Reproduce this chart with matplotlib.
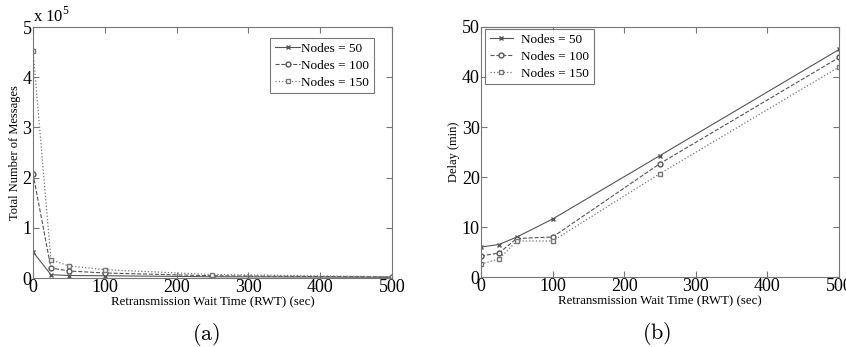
import matplotlib
matplotlib.use('Agg')
import matplotlib.pyplot as plt

# data
rwt = [0, 25, 50, 100, 250, 500]
labels = ['Nodes = 50', 'Nodes = 100', 'Nodes = 150']

# total messages, in units of 1e5
msgs_50 = [0.52, 0.066, 0.05, 0.045, 0.025, 0.015]
msgs_100 = [2.08, 0.20, 0.14, 0.10, 0.045, 0.02]
msgs_150 = [4.53, 0.365, 0.24, 0.166, 0.07, 0.025]

# delay in minutes
delay_50 = [6.0, 6.5, 8.0, 11.6, 24.3, 45.5]
delay_100 = [4.2, 4.8, 7.7, 8.0, 22.7, 43.9]
delay_150 = [2.6, 3.6, 7.2, 7.2, 20.7, 42.0]

plt.rcParams['font.family'] = ['Liberation Serif', 'DejaVu Serif']
plt.rcParams['mathtext.fontset'] = 'custom'
plt.rcParams['mathtext.rm'] = 'Liberation Serif'

styles = [
    dict(linestyle='-', marker='x', markersize=3, color='#555555', lw=0.8),
    dict(linestyle='--', marker='o', markersize=3.5, color='#555555', lw=0.8, mfc='white'),
    dict(linestyle=':', marker='s', markersize=3.5, color='#777777', lw=0.9, mfc='white'),
]

fig = plt.figure(figsize=(8.46, 3.47), dpi=100)
ax1 = fig.add_axes([0.039, 0.1988, 0.4243, 0.7233])
ax2 = fig.add_axes([0.5686, 0.2017, 0.4232, 0.7205])


def style_axes(ax):
    ax.set_xlim(0, 500)
    ax.set_xticks([0, 100, 200, 300, 400, 500])
    ax.tick_params(direction='in', top=True, right=True, labelsize=13, length=4,
                   color='#777777', pad=1)
    for s in ax.spines.values():
        s.set_color('#777777')
        s.set_linewidth(0.8)
    ax.set_xlabel('Retransmission Wait Time (RWT) (sec)', fontsize=9.3, labelpad=0)


for ys, lab, st in zip([msgs_50, msgs_100, msgs_150], labels, styles):
    ax1.plot(rwt, ys, label=lab, **st)
ax1.set_ylim(0, 5)
ax1.set_yticks(range(6))
style_axes(ax1)
ax1.set_ylabel('Total Number of Messages', fontsize=9, labelpad=1)
ax1.text(0.0, 1.005, r'x 10$^5$', transform=ax1.transAxes, fontsize=12, va='bottom')
leg1 = ax1.legend(loc='upper right', fontsize=9.5, handlelength=1.9, borderpad=0.35,
                  labelspacing=0.35, handletextpad=0.1, fancybox=False,
                  bbox_to_anchor=(0.95, 0.956), borderaxespad=0)
leg1.get_frame().set_edgecolor('#555555')
leg1.get_frame().set_linewidth(0.8)

for ys, lab, st in zip([delay_50, delay_100, delay_150], labels, styles):
    ax2.plot(rwt, ys, label=lab, **st)
ax2.set_ylim(0, 50)
ax2.set_yticks(range(0, 51, 10))
style_axes(ax2)
ax2.set_ylabel('Delay (min)', fontsize=9, labelpad=1)
leg2 = ax2.legend(loc='upper left', fontsize=9.5, handlelength=1.8, borderpad=0.35,
                  labelspacing=0.35, handletextpad=0.6, fancybox=False,
                  bbox_to_anchor=(0.011, 0.992), borderaxespad=0)
leg2.get_frame().set_edgecolor('#555555')
leg2.get_frame().set_linewidth(0.8)

fig.text(0.244, 0.035, r'$\mathrm{(a)}$', fontsize=16, ha='center', va='center',
         math_fontfamily='cm')
fig.text(0.776, 0.038, r'$\mathrm{(b)}$', fontsize=16, ha='center', va='center',
         math_fontfamily='cm')

fig.savefig('out.png', dpi=100)
